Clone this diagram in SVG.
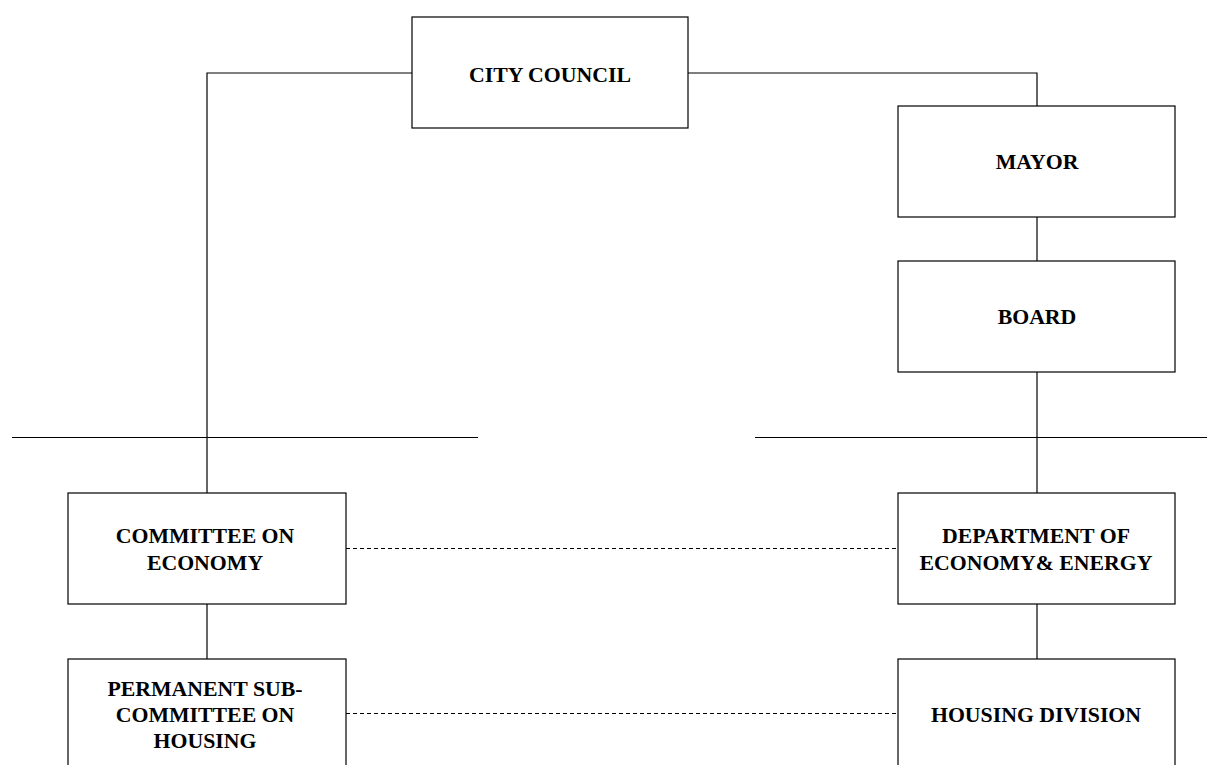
<svg xmlns="http://www.w3.org/2000/svg" width="1207" height="765" viewBox="0 0 1207 765">
<style>
.box{fill:#fff;stroke:#000;stroke-width:1.2}
.ln{fill:none;stroke:#000;stroke-width:1.2}
.dash{fill:none;stroke:#000;stroke-width:1;stroke-dasharray:4,3}
text{font-family:"Liberation Serif","Times New Roman",serif;font-weight:bold;font-size:21.8px;text-anchor:middle;fill:#000}
</style>
<rect width="1207" height="765" fill="#fff"/>
<g id="connectors">
<polyline class="ln" points="412,73 207,73 207,493"/>
<polyline class="ln" points="688,73 1037,73 1037,106"/>
<line class="ln" x1="1037" y1="217" x2="1037" y2="261"/>
<line class="ln" x1="1037" y1="372" x2="1037" y2="493"/>
<line class="ln" x1="207" y1="604" x2="207" y2="659"/>
<line class="ln" x1="1037" y1="604" x2="1037" y2="659"/>
<line class="ln" x1="12" y1="437.5" x2="478" y2="437.5"/>
<line class="ln" x1="755" y1="437.5" x2="1207" y2="437.5"/>
<line class="dash" x1="346" y1="548.5" x2="898" y2="548.5"/>
<line class="dash" x1="346" y1="713.5" x2="898" y2="713.5"/>
</g>
<g id="city-council">
<rect class="box" x="412" y="17" width="276" height="111"/>
<text x="550" y="82">CITY COUNCIL</text>
</g>
<g id="mayor">
<rect class="box" x="898" y="106" width="277" height="111"/>
<text x="1037" y="169">MAYOR</text>
</g>
<g id="board">
<rect class="box" x="898" y="261" width="277" height="111"/>
<text x="1037" y="324">BOARD</text>
</g>
<g id="committee-economy">
<rect class="box" x="68" y="493" width="278" height="111"/>
<text x="205" y="543">COMMITTEE ON</text>
<text x="205" y="570">ECONOMY</text>
</g>
<g id="department-economy">
<rect class="box" x="898" y="493" width="277" height="111"/>
<text x="1036" y="543">DEPARTMENT OF</text>
<text x="1036" y="570">ECONOMY&amp; ENERGY</text>
</g>
<g id="permanent-subcommittee">
<rect class="box" x="68" y="659" width="278" height="120"/>
<text x="205" y="696">PERMANENT SUB-</text>
<text x="205" y="722">COMMITTEE ON</text>
<text x="205" y="748">HOUSING</text>
</g>
<g id="housing-division">
<rect class="box" x="898" y="659" width="277" height="120"/>
<text x="1036" y="722">HOUSING DIVISION</text>
</g>
</svg>
